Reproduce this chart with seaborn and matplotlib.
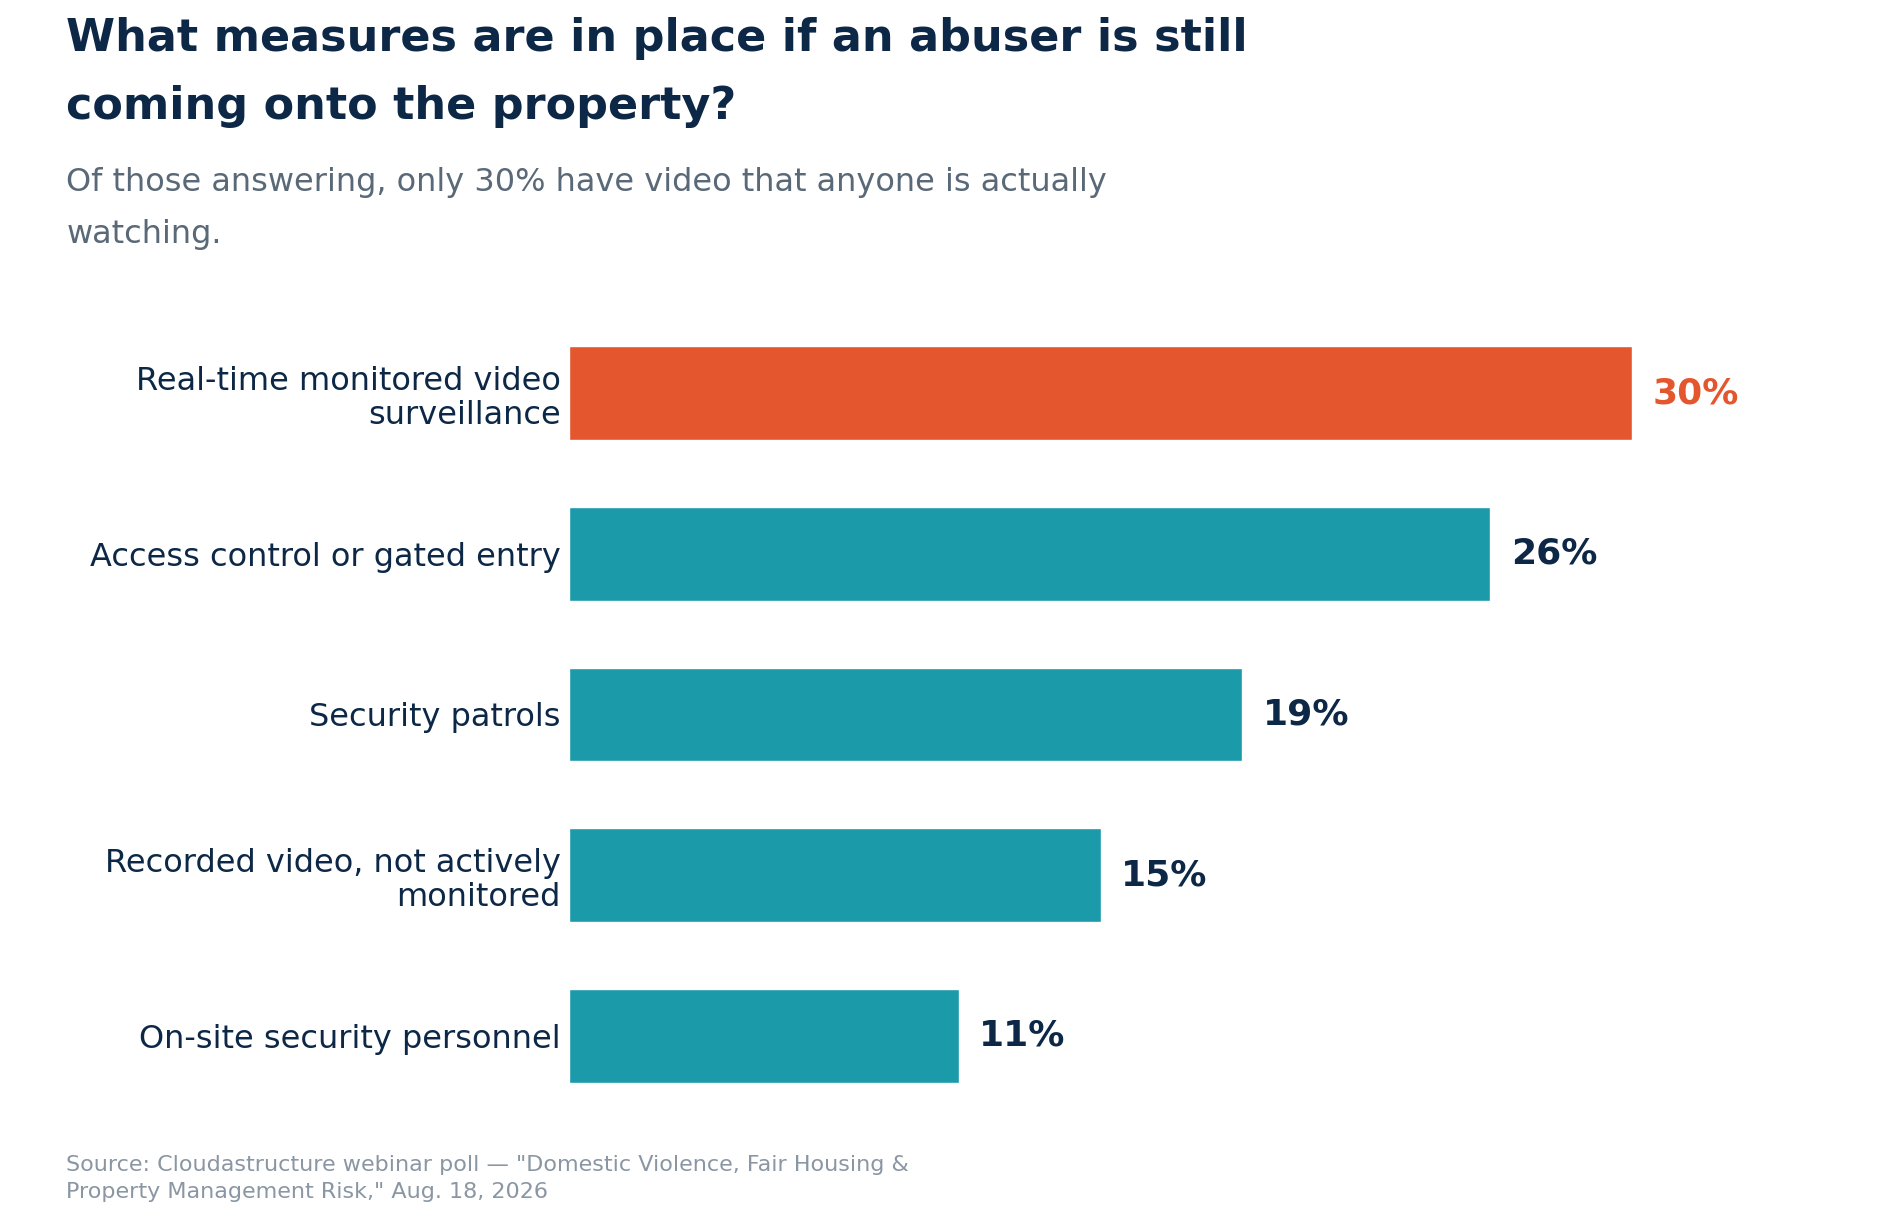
import matplotlib
matplotlib.use("Agg")
import matplotlib.pyplot as plt
import seaborn as sns
import pandas as pd

categories = [
    "Real-time monitored video\nsurveillance",
    "Access control or gated entry",
    "Security patrols",
    "Recorded video, not actively\nmonitored",
    "On-site security personnel",
]
values = [30, 26, 19, 15, 11]
value_labels = ["30%", "26%", "19%", "15%", "11%"]
highlight = "#E4572E"
base = "#1B9AAA"
colors = [highlight, base, base, base, base]
label_colors = [highlight, "#0D2847", "#0D2847", "#0D2847", "#0D2847"]

title = "What measures are in place if an abuser is still\ncoming onto the property?"
subtitle = "Of those answering, only 30% have video that anyone is actually\nwatching."
source = ("Source: Cloudastructure webinar poll \u2014 \"Domestic Violence, Fair Housing &\n"
          "Property Management Risk,\" Aug. 18, 2026")

NAVY = "#0D2847"

sns.set_theme(style="white")
plt.rcParams["font.family"] = ["DejaVu Sans"]

df = pd.DataFrame({"measure": categories, "pct": values})

fig = plt.figure(figsize=(19, 12.3), dpi=100)
ax = fig.add_axes([0.2995, 0.0925, 0.6465, 0.6533])

sns.barplot(data=df, y="measure", x="pct", hue="measure", palette=colors,
            legend=False, width=0.582, ax=ax, saturation=1)

ax.set_xlim(0, 34.66)
ax.set_ylim(4.5, -0.5)
for i, cont in enumerate(ax.containers):
    ax.bar_label(cont, labels=[value_labels[i]], padding=14.5,
                 fontsize=26, fontweight="bold", color=label_colors[i])

ax.set_xlabel("")
ax.set_ylabel("")
ax.set_xticks([])
ax.set_yticks(range(len(categories)), labels=categories, linespacing=1.14,
              ha="right", multialignment="right")
ax.tick_params(axis="y", length=0, pad=6, labelsize=23, labelcolor=NAVY)
sns.despine(ax=ax, left=True, bottom=True)

fig.text(0.035, 0.986, title, fontsize=32, fontweight="bold", color=NAVY,
         va="top", ha="left", linespacing=1.74)
fig.text(0.035, 0.864, subtitle, fontsize=23, color="#5A6978",
         va="top", ha="left", linespacing=1.86)
fig.text(0.035, 0.061, source, fontsize=16, color="#8A96A3",
         va="top", ha="left", linespacing=1.45)

fig.savefig("out.png", dpi=100, facecolor="white")
